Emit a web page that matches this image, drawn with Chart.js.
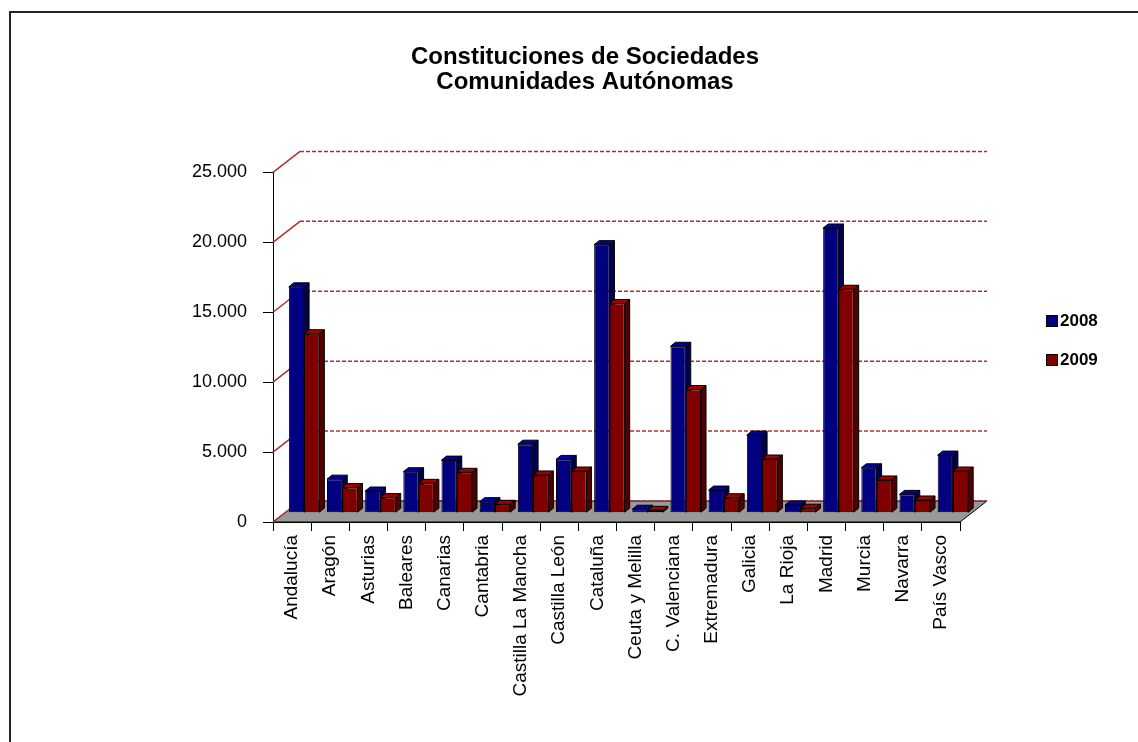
<!DOCTYPE html>
<html lang="es">
<head>
<meta charset="utf-8">
<title>Constituciones de Sociedades</title>
<script src="https://cdn.jsdelivr.net/npm/chart.js@4.4.1/dist/chart.umd.min.js"></script>
<style>
    body { margin: 0; background: #fff; }
    #wrap { position: relative; width: 1138px; height: 742px; overflow: hidden; background: #fff; }
    #frame { position: absolute; left: 9px; top: 11px; width: 1200px; height: 800px;
             border-top: 2px solid #222; border-left: 2px solid #222; }
    #chart { position: absolute; left: 0; top: 0; }
    #legend { position: absolute; left: 1046px; top: 301px; font: bold 17px "Liberation Sans", Arial, sans-serif; }
    #legend div { height: 39px; display: flex; align-items: center; }
    #legend span.box { display: inline-block; width: 10px; height: 10px; border: 1px solid #000; margin-right: 2px; }
</style>
</head>
<body>
<div id="wrap">
    <div id="frame"></div>
    <canvas id="chart" width="1138" height="742"></canvas>
    <div id="legend"></div>
</div>
<script>
const categories = ['Andalucía', 'Aragón', 'Asturias', 'Baleares', 'Canarias', 'Cantabria',
    'Castilla La Mancha', 'Castilla León', 'Cataluña', 'Ceuta y Melilla', 'C. Valenciana',
    'Extremadura', 'Galicia', 'La Rioja', 'Madrid', 'Murcia', 'Navarra', 'País Vasco'];
const values2008 = [16150, 2400, 1550, 2930, 3760, 790, 4900, 3810, 19170, 250, 11900,
    1620, 5550, 550, 20360, 3210, 1310, 4120];
const values2009 = [12800, 1800, 1080, 2100, 2890, 600, 2700, 2980, 14960, 170, 8810,
    1070, 3840, 320, 15980, 2340, 910, 2980];
const valueTicks = [0, 5000, 10000, 15000, 20000, 25000];

// profundidad del "3D" de Excel
const DX = 27, DY = 21;        // pared del fondo
const BX = 12, BY = 9.3;       // las barras estan a media profundidad
const SX = 5, SY = 4;          // grosor de cada barra

const fmt = v => String(v).replace(/\B(?=(\d{3})+(?!\d))/g, '.');

const excel3d = {
    id: 'excel3d',
    afterLayout(chart) {
        // el titulo va centrado un poco mas a la derecha que el canvas
        chart.titleBlock.left += 48;
    },
    beforeDatasetsDraw(chart) {
        const { ctx, chartArea: a, scales: { y } } = chart;

        // suelo gris
        ctx.save();
        ctx.fillStyle = '#999999';
        ctx.strokeStyle = '#000';
        ctx.lineWidth = 1;
        ctx.beginPath();
        ctx.moveTo(a.left, a.bottom);
        ctx.lineTo(a.right, a.bottom);
        ctx.lineTo(a.right + DX, a.bottom - DY);
        ctx.lineTo(a.left + DX, a.bottom - DY);
        ctx.closePath();
        ctx.fill();
        ctx.stroke();

        // lineas de division en la pared del fondo
        ctx.strokeStyle = '#B03030';
        ctx.lineWidth = 1.5;
        y.ticks.forEach(t => {
            const py = y.getPixelForValue(t.value);
            ctx.setLineDash([]);
            ctx.beginPath();
            ctx.moveTo(a.left, py);
            ctx.lineTo(a.left + DX, py - DY);
            ctx.stroke();
            ctx.setLineDash([4, 2]);
            ctx.beginPath();
            ctx.moveTo(a.left + DX, py - DY);
            ctx.lineTo(a.right + DX, py - DY);
            ctx.stroke();
        });
        ctx.restore();

        // caras de arriba y laterales, antes del frente
        ctx.save();
        ctx.translate(BX, -BY);
        ctx.strokeStyle = '#000';
        ctx.lineWidth = 1;
        chart.data.datasets.forEach((ds, i) => {
            chart.getDatasetMeta(i).data.forEach(bar => {
                const p = bar.getProps(['x', 'y', 'base', 'width'], true);
                const l = p.x - p.width / 2, r = p.x + p.width / 2;
                ctx.fillStyle = ds.sideColor;
                ctx.beginPath();
                ctx.moveTo(r, p.y);
                ctx.lineTo(r + SX, p.y - SY);
                ctx.lineTo(r + SX, p.base - SY);
                ctx.lineTo(r, p.base);
                ctx.closePath();
                ctx.fill();
                ctx.stroke();
                ctx.fillStyle = ds.topColor;
                ctx.beginPath();
                ctx.moveTo(l, p.y);
                ctx.lineTo(l + SX, p.y - SY);
                ctx.lineTo(r + SX, p.y - SY);
                ctx.lineTo(r, p.y);
                ctx.closePath();
                ctx.fill();
                ctx.stroke();
            });
        });
        // el translate sigue activo mientras Chart.js pinta los frentes
    },
    afterDatasetsDraw(chart) {
        chart.ctx.restore();
    }
};

const ctx = document.getElementById('chart').getContext('2d');
const myChart = new Chart(ctx, {
    type: 'bar',
    data: {
        labels: categories,
        datasets: [{
            label: '2008',
            data: values2008,
            backgroundColor: '#000080',
            topColor: '#0000A0',
            sideColor: '#000050',
            borderColor: '#000',
            borderWidth: 1,
            borderSkipped: false,
            clip: false
        }, {
            label: '2009',
            data: values2009,
            backgroundColor: '#800000',
            topColor: '#A00000',
            sideColor: '#500000',
            borderColor: '#000',
            borderWidth: 1,
            borderSkipped: false,
            clip: false
        }]
    },
    options: {
        responsive: false,
        animation: false,
        categoryPercentage: 0.8,
        barPercentage: 1.0,
        layout: { padding: { left: 162, right: 178, top: 0, bottom: 0 } },
        plugins: {
            legend: { display: false },
            tooltip: { enabled: false },
            title: {
                display: true,
                text: ['Constituciones de Sociedades', 'Comunidades Autónomas'],
                color: '#000',
                font: { family: '"Liberation Sans", Arial, sans-serif', size: 24, weight: 'bold', lineHeight: 1.05 },
                padding: { top: 45, bottom: 77 }
            }
        },
        scales: {
            x: {
                grid: { offset: true, drawOnChartArea: false, tickLength: 9, color: '#000' },
                border: { color: '#000' },
                ticks: {
                    autoSkip: false,
                    minRotation: 90,
                    maxRotation: 90,
                    padding: 4,
                    color: '#000',
                    font: { family: '"Liberation Sans", Arial, sans-serif', size: 19 }
                },
                afterFit: scale => { scale.height = 220; }
            },
            y: {
                min: 0,
                max: 25000,
                grid: { drawOnChartArea: false, tickLength: 10, color: '#000' },
                border: { color: '#000' },
                ticks: {
                    padding: 16,
                    color: '#000',
                    font: { family: '"Liberation Sans", Arial, sans-serif', size: 18 },
                    callback: v => fmt(v)
                },
                afterBuildTicks: scale => { scale.ticks = valueTicks.map(v => ({ value: v })); },
                afterFit: scale => { scale.width = 111; }
            }
        }
    },
    plugins: [excel3d]
});

// leyenda a la derecha, como en Excel
const legendDiv = document.getElementById('legend');
myChart.data.datasets.forEach(ds => {
    legendDiv.innerHTML += `<div><span class="box" style="background:${ds.backgroundColor}"></span>${ds.label}</div>`;
});
</script>
</body>
</html>
